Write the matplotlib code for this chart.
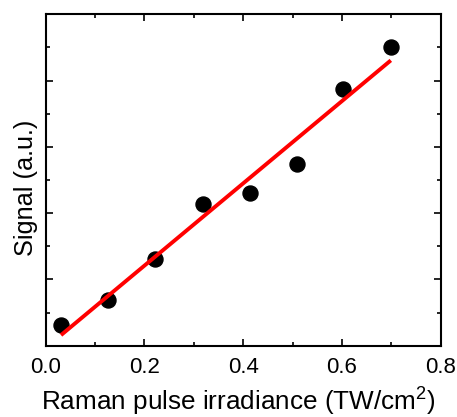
import numpy as np
import matplotlib
matplotlib.use("Agg")
import matplotlib.pyplot as plt
from matplotlib.ticker import MultipleLocator, NullFormatter

plt.rcParams['font.family'] = ['Liberation Sans', 'DejaVu Sans']
plt.rcParams['mathtext.fontset'] = 'custom'
plt.rcParams['mathtext.rm'] = 'Liberation Sans'

irradiance = [0.031, 0.127, 0.222, 0.319, 0.413, 0.508, 0.603, 0.699]
signal = [0.31, 0.69, 1.31, 2.14, 2.31, 2.74, 3.87, 4.50]

fig = plt.figure(figsize=(4.57, 4.17), dpi=100)
ax = fig.add_axes([0.1, 0.171, 0.8643, 0.7947])

x = np.array(irradiance)
y = np.array(signal)
slope, intercept = np.polyfit(x, y, 1)
xf = np.array([x.min(), x.max()])
ax.plot(x, y, 'o', color='black', markersize=10.8, zorder=2)
ax.plot(xf, slope * xf + intercept, color='#ff0000', lw=2.8, zorder=3,
        solid_capstyle='butt')

ax.set_xlim(0, 0.8)
ax.set_ylim(0, 5)
ax.xaxis.set_major_locator(MultipleLocator(0.2))
ax.xaxis.set_minor_locator(MultipleLocator(0.1))
ax.yaxis.set_major_locator(MultipleLocator(1))
ax.yaxis.set_minor_locator(MultipleLocator(0.5))
ax.yaxis.set_major_formatter(NullFormatter())
ax.xaxis.set_major_formatter(plt.FuncFormatter(lambda v, p: f"{v:.1f}"))

ax.tick_params(which='both', direction='in', top=True, right=True, width=1.2)
ax.tick_params(which='major', length=5, labelsize=16, pad=8.5)
ax.tick_params(which='minor', length=3)
for s in ax.spines.values():
    s.set_linewidth(1.5)

ax.set_xlabel('Raman pulse irradiance (TW/cm$^2$)', fontsize=18.8)
ax.xaxis.label.set_va('baseline')
ax.xaxis.set_label_coords(0.489, -0.194)
ax.set_ylabel('Signal (a.u.)', fontsize=18.2)
ax.yaxis.set_label_coords(-0.02, 0.477)

fig.savefig('out.png', dpi=100)
